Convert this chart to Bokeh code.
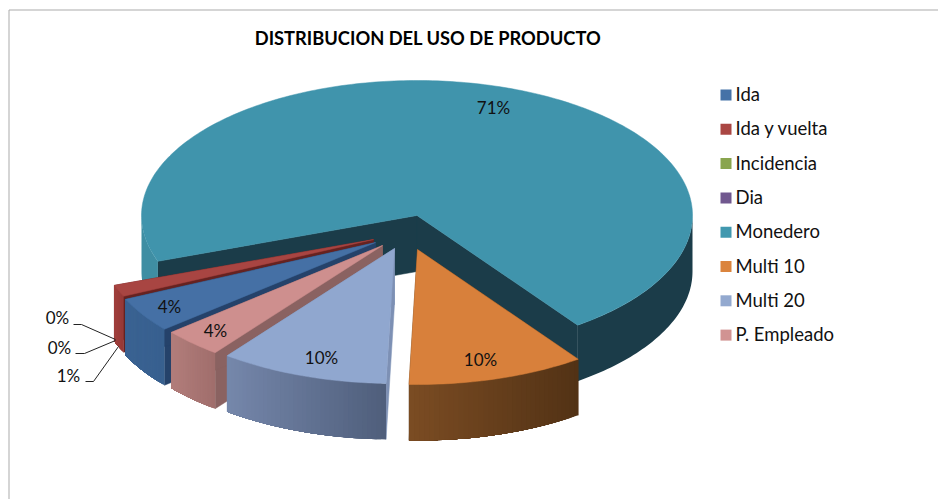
import math
from bokeh.plotting import figure
from bokeh.core.properties import value
from bokeh.embed import file_html
from bokeh.resources import INLINE

# ---- data ----
categories = ["Ida", "Ida y vuelta", "Incidencia", "Dia", "Monedero", "Multi 10", "Multi 20", "P. Empleado"]
shares = [4.2, 1.4, 0.0, 0.0, 70.6, 10.4, 9.9, 3.5]
legend_colors = ["#4572A7", "#AA4643", "#89A54E", "#71588F", "#4198AF", "#DB843D", "#93A9CF", "#D19392"]
title = "DISTRIBUCION DEL USO DE PRODUCTO"

# ---- styling / layout (pixel space of the page) ----
W, H = 938, 499
FONT = "Lato"
CX, CY, RX, RY, DEPTH = 416.5, 216.0, 275.5, 135.0, 56.0
START = 140.0   # screen angle of the first slice, clockwise

explode = {"Ida": (-41.5, 27), "Ida y vuelta": (-43.5, 24), "Incidencia": (-43.5, 24), "Dia": (-43.5, 24),
           "Monedero": (0, 0), "Multi 10": (0.5, 34), "Multi 20": (-22.5, 33), "P. Empleado": (-34.5, 30)}
top_col = {"Ida": "#4570A5", "Ida y vuelta": "#A84542", "Incidencia": "#89A54E", "Dia": "#71588F",
           "Monedero": "#4094AC", "Multi 10": "#D8803B", "Multi 20": "#90A7CF", "P. Empleado": "#CE8F8E"}
cut_col = {"Ida": "#25426A", "Ida y vuelta": "#662220", "Incidencia": "#89A54E", "Dia": "#71588F",
           "Monedero": "#1B3C49", "Multi 10": "#573618", "Multi 20": "#7D90B4", "P. Empleado": "#8A6261"}
# outer wall colours: left end, right end of the horizontal shading
wall_col = {"Ida": ("#3A6292", "#38608F"), "Ida y vuelta": ("#A0403D", "#963A38"),
            "Incidencia": ("#89A54E", "#89A54E"), "Dia": ("#71588F", "#71588F"),
            "Monedero": None, "Multi 10": ("#7B4C23", "#523215"),
            "Multi 20": ("#7587AB", "#4F5E7B"), "P. Empleado": ("#B27D7B", "#A06E6C")}
draw_order = ["Monedero", "Dia", "Incidencia", "Ida y vuelta", "Ida", "P. Empleado", "Multi 20", "Multi 10"]
label_at = {"Ida": (169, 307), "Ida y vuelta": (68, 376), "Incidencia": (59, 348), "Dia": (57, 318),
            "Monedero": (493, 108), "Multi 10": (480, 360), "Multi 20": (321, 358), "P. Empleado": (215, 331)}
leaders = {"Ida y vuelta": [(85, 93, 118), (382, 382, 347)],
           "Incidencia": [(75, 84, 115), (354, 354, 341)],
           "Dia": [(73, 81, 115), (325, 325, 340)]}

p = figure(width=W, height=H, x_range=(0, W), y_range=(H + 1, 1), x_axis_type=None, y_axis_type=None,
           toolbar_location=None, output_backend="svg", min_border=0, outline_line_color=None,
           background_fill_color="white", border_fill_color="white")
p.grid.visible = False


def rgb(h):
    return [int(h[i:i + 2], 16) for i in (1, 3, 5)]


def mix(a, b, f):
    ca, cb = rgb(a), rgb(b)
    return "#%02x%02x%02x" % tuple(round(ca[i] + (cb[i] - ca[i]) * f) for i in range(3))


def pt(ox, oy, deg):
    return CX + ox + RX * math.cos(math.radians(deg)), CY + oy + RY * math.sin(math.radians(deg))


def arc(ox, oy, a0, a1, n=None):
    n = n or max(2, int(abs(a1 - a0) / 1.0) + 1)
    return [pt(ox, oy, a0 + (a1 - a0) * i / (n - 1)) for i in range(n)]


def flat(points, color):
    xs, ys = zip(*points)
    p.patch(list(xs), list(ys), fill_color=color, line_color=color, line_width=0.5)


def wall(ox, oy, a0, a1, c_right, c_left, strips=36):
    """Outer wall between two screen angles in the front half, shaded left to right.
    Each strip reaches to the wall's far end, so neighbours leave no seam."""
    xs, ys, cols = [], [], []
    x_low, x_high = sorted((pt(ox, oy, a0)[0], pt(ox, oy, a1)[0]))
    for i in range(strips):
        b0 = a0 + (a1 - a0) * i / strips
        b1 = a0 + (a1 - a0) * (i + 1) / strips
        top = arc(ox, oy, b0, a1)
        bot = [(x, y + DEPTH) for x, y in reversed(top)]
        xs.append([q[0] for q in top + bot])
        ys.append([q[1] for q in top + bot])
        f = (pt(ox, oy, (b0 + b1) / 2)[0] - x_low) / max(1e-6, x_high - x_low)
        cols.append(mix(c_left, c_right, f))
    p.patches(xs, ys, fill_color=cols, line_color=None)


# slice angles from the values
total = sum(shares)
angles = {}
a = START
for name, s in zip(categories, shares):
    angles[name] = (a, a + s / total * 360)
    a += s / total * 360

for name in draw_order:
    a0, a1 = angles[name]
    if a1 - a0 < 0.01:
        continue
    ox, oy = explode[name]
    apex = (CX + ox, CY + oy)
    apex_low = (apex[0], apex[1] + DEPTH)
    # cut walls
    for ang in (a0, a1):
        e = pt(ox, oy, ang)
        flat([apex, e, (e[0], e[1] + DEPTH), apex_low], cut_col[name])
    # outer walls: only the front half (0..180 degrees, mod 360) shows
    for lo, hi in ((0, 180), (360, 540)):
        b0, b1 = max(a0, lo), min(a1, hi)
        if b1 <= b0:
            continue
        if name == "Monedero":
            c = "#3F8EA3" if lo == 0 else cut_col[name]
            wall(ox, oy, b0, b1, c, c, strips=1)
        else:
            wall(ox, oy, b0, b1, wall_col[name][1], wall_col[name][0])
    # top face
    flat([apex] + arc(ox, oy, a0, a1), top_col[name])

# leader lines for the small slices
for name, (lx, ly) in leaders.items():
    p.line(list(lx), list(ly), line_color="#222222", line_width=1)

# data labels
for name, s in zip(categories, shares):
    lx, ly = label_at[name]
    p.text([lx], [ly], text=["%d%%" % round(s / total * 100 + 1e-9)], text_font=value(FONT),
           text_font_size="17px", text_color="#111111", text_align="center", text_baseline="middle")

# title
p.text([427.5], [38.5], text=[title], text_font=value(FONT), text_font_size="18.3px", text_font_style="bold",
       text_color="#000000", text_align="center", text_baseline="middle")

# legend
for i, (name, col) in enumerate(zip(categories, legend_colors)):
    yy = 95.5 + i * 34.3
    p.rect([725.5], [yy], width=11, height=11, fill_color=col, line_color=None)
    p.text([735], [yy - 1], text=[name], text_font=value(FONT), text_font_size="18.5px", text_color="#111111",
           text_align="left", text_baseline="middle")

# chart frame
p.line([8.5, 8.5, W], [H + 1, 10.5, 10.5], line_color="#ABABAB", line_width=1)

open("out.html", "w").write(file_html(p, INLINE))
